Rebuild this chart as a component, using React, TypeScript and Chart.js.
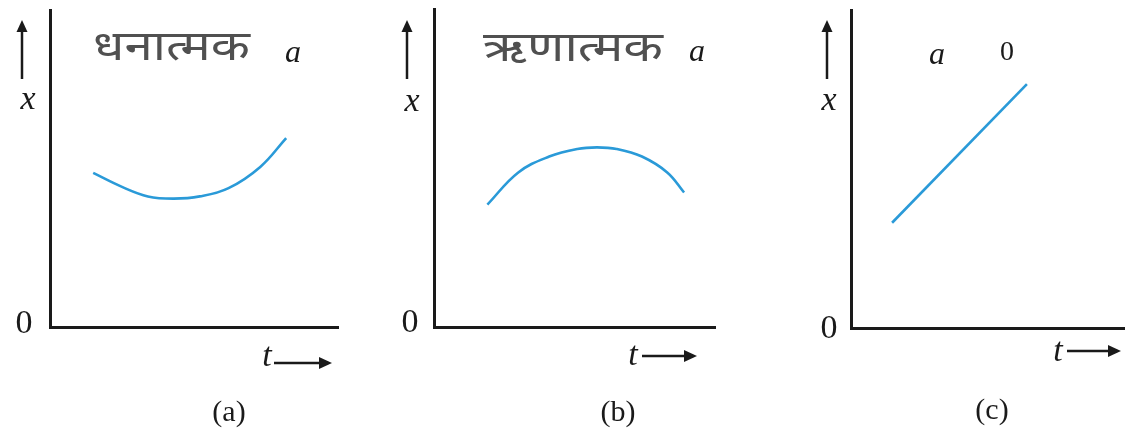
import React, { useEffect, useRef } from "react";
import { Chart, registerables } from "chart.js";

Chart.register(...registerables);

// x–t curves for the three kinds of acceleration
const positiveT = [1.5, 2.5, 3.4, 4.3, 5.2, 6.2, 7.3, 8.2];
const positiveX = [4.86, 4.42, 4.12, 4.05, 4.12, 4.38, 5.05, 5.96];

const negativeT = [1.9, 3.0, 4.1, 5.1, 5.8, 6.5, 7.4, 8.3, 8.9];
const negativeX = [3.85, 4.86, 5.36, 5.6, 5.65, 5.6, 5.36, 4.86, 4.23];

const zeroT = [1.5, 6.42];
const zeroX = [3.31, 7.67];

const accelTitles = ["धनात्मक", "ऋणात्मक", ""];
const accelSymbol = "a";
const zeroValue = "0";
const originLabel = "0";
const yAxisLabel = "x";
const xAxisLabel = "t";
const panelCaptions = ["(a)", "(b)", "(c)"];

const CURVE_COLOR = "#2a9ad8";
const INK = "#1a1a1a";
const SERIF = '"Liberation Serif", "DejaVu Serif", serif';
const DEVANAGARI = '"Noto Sans Devanagari", "Lohit Devanagari", "Noto Sans", "FreeSans", sans-serif';

type Panel = {
  left: number;
  width: number;
  axisLeft: number;
  axisRight: number;
  axisTop: number;
  axisBottom: number;
  t: number[];
  x: number[];
  tension: number;
  title: string;
  titleBox: [number, number, number];
  aPos: [number, number];
  zeroPos?: [number, number];
  upArrowX: number;
  xLabel: [number, number];
  origin: [number, number];
  tLabel: [number, number];
  rightArrow: [number, number, number];
  caption: string;
  captionPos: [number, number];
};

const panels: Panel[] = [
  {
    left: 0, width: 375, axisLeft: 50, axisRight: 338, axisTop: 10, axisBottom: 327,
    t: positiveT, x: positiveX, tension: 0.4,
    title: accelTitles[0], titleBox: [93, 250, 52], aPos: [293, 54],
    upArrowX: 22, xLabel: [28, 100], origin: [24, 324],
    tLabel: [267, 357], rightArrow: [274, 332, 363],
    caption: panelCaptions[0], captionPos: [229, 413],
  },
  {
    left: 375, width: 375, axisLeft: 434, axisRight: 715, axisTop: 9, axisBottom: 327,
    t: negativeT, x: negativeX, tension: 0.4,
    title: accelTitles[1], titleBox: [483, 663, 53], aPos: [697, 53],
    upArrowX: 407, xLabel: [412, 102], origin: [410, 323],
    tLabel: [633, 356], rightArrow: [642, 697, 356],
    caption: panelCaptions[1], captionPos: [618, 413],
  },
  {
    left: 750, width: 375, axisLeft: 851, axisRight: 1125, axisTop: 10, axisBottom: 328,
    t: zeroT, x: zeroX, tension: 0,
    title: accelTitles[2], titleBox: [0, 0, 0], aPos: [937, 56], zeroPos: [1007, 53],
    upArrowX: 827, xLabel: [829, 101], origin: [829, 329],
    tLabel: [1058, 352], rightArrow: [1067, 1121, 351],
    caption: panelCaptions[2], captionPos: [992, 411],
  },
];

function drawUpArrow(ctx: CanvasRenderingContext2D, x: number, top: number, bottom: number) {
  ctx.strokeStyle = INK;
  ctx.fillStyle = INK;
  ctx.lineWidth = 2.5;
  ctx.beginPath();
  ctx.moveTo(x, top + 8);
  ctx.lineTo(x, bottom);
  ctx.stroke();
  ctx.beginPath();
  ctx.moveTo(x, top);
  ctx.lineTo(x - 5.5, top + 12);
  ctx.lineTo(x + 5.5, top + 12);
  ctx.closePath();
  ctx.fill();
}

function drawRightArrow(ctx: CanvasRenderingContext2D, x1: number, x2: number, y: number) {
  ctx.strokeStyle = INK;
  ctx.fillStyle = INK;
  ctx.lineWidth = 2.5;
  ctx.beginPath();
  ctx.moveTo(x1, y);
  ctx.lineTo(x2 - 8, y);
  ctx.stroke();
  ctx.beginPath();
  ctx.moveTo(x2, y);
  ctx.lineTo(x2 - 13, y - 6);
  ctx.lineTo(x2 - 13, y + 6);
  ctx.closePath();
  ctx.fill();
}

function makeLabelPlugin(p: Panel) {
  return {
    id: "panelLabels",
    afterDraw(chart: Chart) {
      const ctx = chart.ctx;
      const ox = p.left;
      ctx.save();
      ctx.translate(-ox, 0);
      ctx.textAlign = "center";
      ctx.textBaseline = "middle";

      // accelerating-type heading, squeezed to its box width
      if (p.title) {
        const [l, r, y] = p.titleBox;
        ctx.font = `42px ${DEVANAGARI}`;
        ctx.fillStyle = "#505050";
        ctx.textAlign = "left";
        const w = ctx.measureText(p.title).width;
        const scale = (r - l) / w;
        ctx.save();
        ctx.translate(l, y);
        ctx.scale(scale, 1);
        ctx.fillText(p.title, 0, 0);
        ctx.restore();
        ctx.textAlign = "center";
      }
      ctx.fillStyle = INK;
      ctx.font = `italic 32px ${SERIF}`;
      ctx.fillText(accelSymbol, p.aPos[0], p.aPos[1]);
      if (p.zeroPos) {
        ctx.font = `28px ${SERIF}`;
        ctx.fillText(zeroValue, p.zeroPos[0], p.zeroPos[1]);
      }

      // y axis label with arrow
      drawUpArrow(ctx, p.upArrowX, 20, 79);
      ctx.font = `italic 34px ${SERIF}`;
      ctx.fillText(yAxisLabel, p.xLabel[0], p.xLabel[1]);

      // origin
      ctx.font = `34px ${SERIF}`;
      ctx.fillText(originLabel, p.origin[0], p.origin[1]);

      // t axis label with arrow
      ctx.font = `italic 34px ${SERIF}`;
      ctx.fillText(xAxisLabel, p.tLabel[0], p.tLabel[1]);
      drawRightArrow(ctx, p.rightArrow[0], p.rightArrow[1], p.rightArrow[2]);

      // panel caption
      ctx.font = `30px ${SERIF}`;
      ctx.fillText(p.caption, p.captionPos[0], p.captionPos[1]);
      ctx.restore();
    },
  };
}

function PanelChart({ p }: { p: Panel }) {
  const ref = useRef<HTMLCanvasElement>(null);
  useEffect(() => {
    if (!ref.current) return;
    const chart = new Chart(ref.current, {
      type: "line",
      data: {
        datasets: [
          {
            data: p.t.map((t, i) => ({ x: t, y: p.x[i] })),
            borderColor: CURVE_COLOR,
            borderWidth: 2.6,
            pointRadius: 0,
            tension: p.tension,
            fill: false,
          },
        ],
      },
      options: {
        animation: false,
        responsive: false,
        devicePixelRatio: 1,
        events: [],
        layout: {
          padding: {
            left: p.axisLeft - p.left,
            right: p.left + p.width - p.axisRight,
            top: p.axisTop,
            bottom: 442 - p.axisBottom,
          },
        },
        plugins: {
          legend: { display: false },
          tooltip: { enabled: false },
          title: { display: false },
        },
        scales: {
          x: {
            type: "linear",
            min: 0,
            max: 10,
            ticks: { display: false },
            grid: { display: false, drawTicks: false },
            border: { display: true, color: INK, width: 3 },
            afterFit: (s: any) => { s.height = 0; },
          },
          y: {
            type: "linear",
            min: 0,
            max: 10,
            ticks: { display: false },
            grid: { display: false, drawTicks: false },
            border: { display: true, color: INK, width: 3 },
            afterFit: (s: any) => { s.width = 0; },
          },
        },
      },
      plugins: [makeLabelPlugin(p)],
    } as any);
    return () => chart.destroy();
  }, [p]);
  return (
    <canvas
      ref={ref}
      width={p.width}
      height={442}
      style={{ position: "absolute", left: p.left, top: 0, width: p.width, height: 442 }}
    />
  );
}

export default function App() {
  return (
    <div
      style={{
        position: "fixed",
        left: 0,
        top: 0,
        width: 1125,
        height: 442,
        background: "#ffffff",
        overflow: "hidden",
      }}
    >
      {panels.map((p) => (
        <PanelChart key={p.caption} p={p} />
      ))}
    </div>
  );
}
